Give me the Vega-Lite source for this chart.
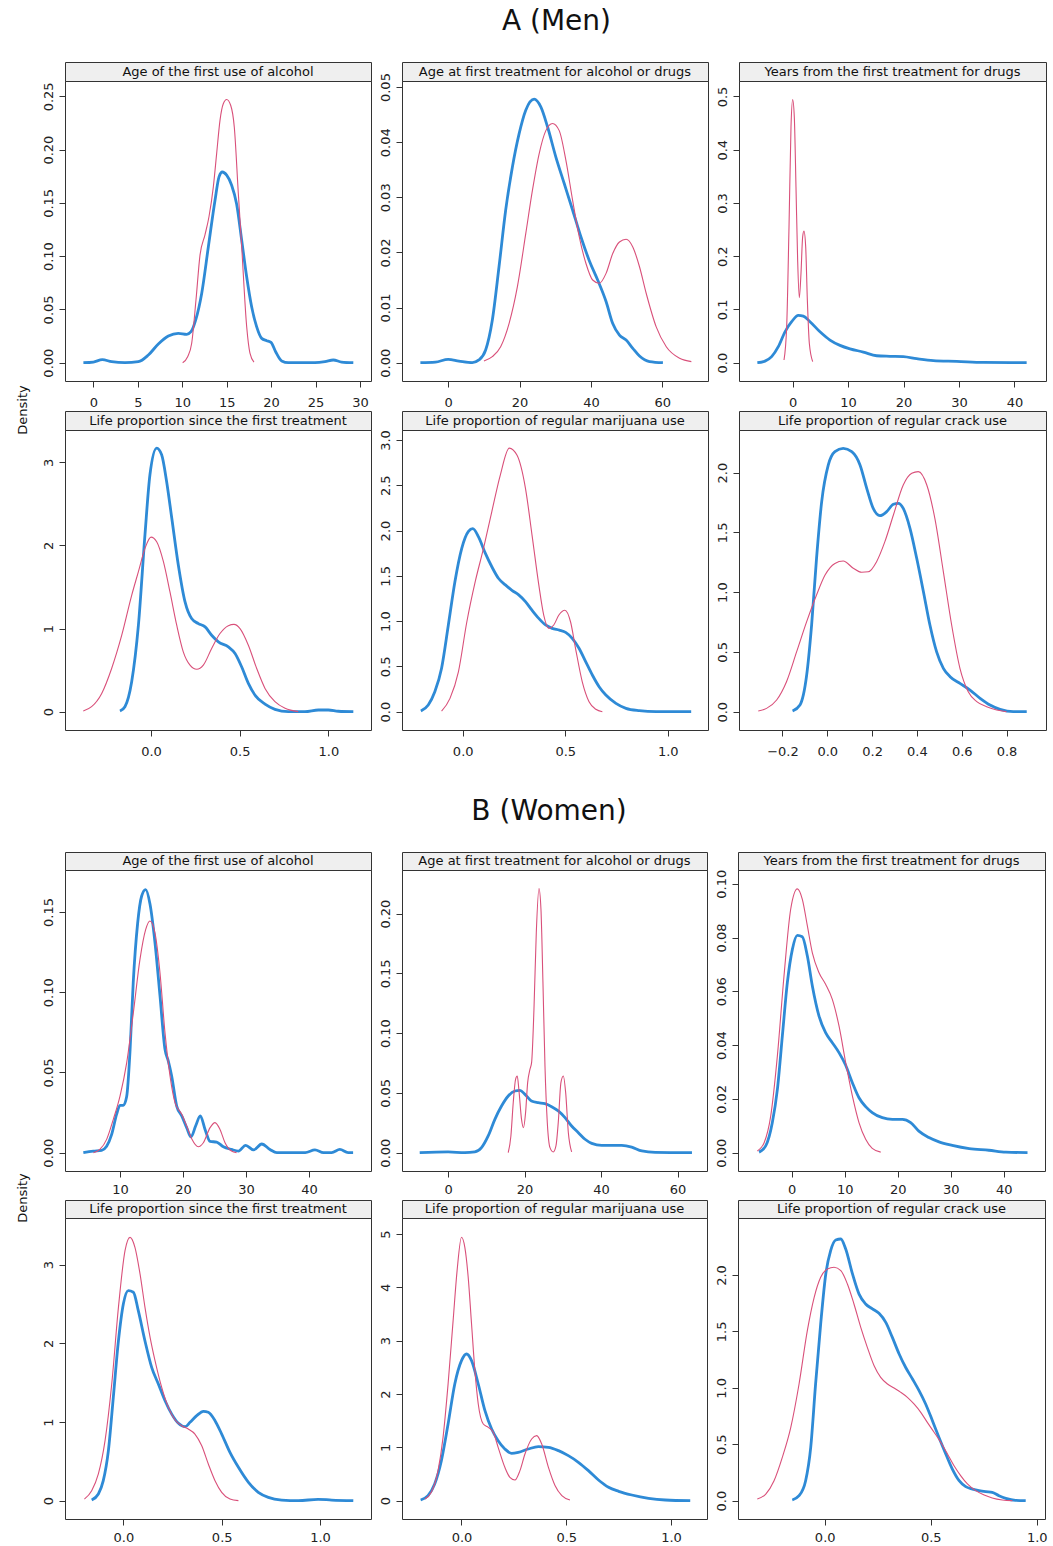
{
"$schema":"https://vega.github.io/schema/vega-lite/v6.json",
"background":"white",
"padding":{"left":16,"top":7,"right":0,"bottom":0},
"config":{"font":"DejaVu Sans","view":{"stroke":"#333","strokeWidth":1},
 "title":{"font":"DejaVu Sans","fontWeight":"normal","color":"#111"},
 "axis":{"grid":false,"domain":false,"tickColor":"#333","labelColor":"#222","labelFont":"DejaVu Sans","labelFontSize":13,"tickSize":6,"labelFlush":false,"labelOverlap":false},
 "axisX":{"labelPadding":9},
 "axisY":{"labelPadding":4,"labelAngle":270}
},
"datasets":{
"A1":[
{"g":"b","x":-1.12,"y":0},{"g":"b","x":0,"y":0.0006},{"g":"b","x":1.01,"y":0.0028},{"g":"b","x":2.06,"y":0.0009},{"g":"b","x":3.56,"y":0},{"g":"b","x":5.06,"y":0.0009},{"g":"b","x":6.19,"y":0.0072},{"g":"b","x":7.31,"y":0.0175},{"g":"b","x":8.44,"y":0.025},{"g":"b","x":9.56,"y":0.0275},{"g":"b","x":10.5,"y":0.0266},{"g":"b","x":10.99,"y":0.0291},{"g":"b","x":11.51,"y":0.04},{"g":"b","x":12.19,"y":0.065},{"g":"b","x":12.94,"y":0.1088},{"g":"b","x":13.69,"y":0.1525},{"g":"b","x":14.14,"y":0.1744},{"g":"b","x":14.51,"y":0.179},{"g":"b","x":15,"y":0.176},{"g":"b","x":15.56,"y":0.1666},{"g":"b","x":16.12,"y":0.149},{"g":"b","x":16.69,"y":0.115},{"g":"b","x":17.25,"y":0.0806},{"g":"b","x":17.81,"y":0.0525},{"g":"b","x":18.37,"y":0.0338},{"g":"b","x":18.94,"y":0.0228},{"g":"b","x":19.5,"y":0.0206},{"g":"b","x":19.99,"y":0.019},{"g":"b","x":20.51,"y":0.0103},{"g":"b","x":21.19,"y":0.0016},{"g":"b","x":21.94,"y":0},{"g":"b","x":24.93,"y":0},{"g":"b","x":26.06,"y":0.0009},{"g":"b","x":27,"y":0.0025},{"g":"b","x":27.93,"y":0.0006},{"g":"b","x":29.25,"y":0},
{"g":"r","x":10.05,"y":0},{"g":"r","x":10.61,"y":0.0056},{"g":"r","x":11.06,"y":0.018},{"g":"r","x":11.55,"y":0.059},{"g":"r","x":12,"y":0.101},{"g":"r","x":12.56,"y":0.12},{"g":"r","x":13.01,"y":0.137},{"g":"r","x":13.5,"y":0.165},{"g":"r","x":13.87,"y":0.196},{"g":"r","x":14.25,"y":0.2275},{"g":"r","x":14.62,"y":0.243},{"g":"r","x":15,"y":0.247},{"g":"r","x":15.45,"y":0.2416},{"g":"r","x":15.86,"y":0.221},{"g":"r","x":16.31,"y":0.159},{"g":"r","x":16.69,"y":0.109},{"g":"r","x":17.25,"y":0.034},{"g":"r","x":17.62,"y":0.009},{"g":"r","x":18.07,"y":0.0006}],
"A2":[
{"g":"b","x":-7.78,"y":0},{"g":"b","x":-3.56,"y":0.0001},{"g":"b","x":0,"y":0.0006},{"g":"b","x":3,"y":0.0003},{"g":"b","x":6.75,"y":0},{"g":"b","x":8.62,"y":0.0005},{"g":"b","x":10.5,"y":0.0023},{"g":"b","x":12.37,"y":0.0077},{"g":"b","x":14.25,"y":0.0174},{"g":"b","x":16.12,"y":0.0277},{"g":"b","x":18,"y":0.0355},{"g":"b","x":19.87,"y":0.0415},{"g":"b","x":21.74,"y":0.0458},{"g":"b","x":24.09,"y":0.0478},{"g":"b","x":25.96,"y":0.0464},{"g":"b","x":27.84,"y":0.0428},{"g":"b","x":30.18,"y":0.0373},{"g":"b","x":32.52,"y":0.0325},{"g":"b","x":34.86,"y":0.0277},{"g":"b","x":37.21,"y":0.0228},{"g":"b","x":39.55,"y":0.0185},{"g":"b","x":41.89,"y":0.015},{"g":"b","x":44.24,"y":0.0111},{"g":"b","x":46.11,"y":0.0071},{"g":"b","x":47.99,"y":0.005},{"g":"b","x":49.86,"y":0.0041},{"g":"b","x":51.73,"y":0.0026},{"g":"b","x":53.61,"y":0.0012},{"g":"b","x":56.42,"y":0.0002},{"g":"b","x":60.17,"y":0},
{"g":"r","x":10.03,"y":0.0003},{"g":"r","x":12.37,"y":0.0011},{"g":"r","x":14.71,"y":0.0029},{"g":"r","x":17.06,"y":0.0071},{"g":"r","x":19.4,"y":0.0138},{"g":"r","x":21.74,"y":0.0234},{"g":"r","x":23.62,"y":0.0313},{"g":"r","x":25.49,"y":0.0379},{"g":"r","x":27.37,"y":0.0421},{"g":"r","x":29.24,"y":0.0434},{"g":"r","x":31.12,"y":0.0421},{"g":"r","x":32.99,"y":0.0367},{"g":"r","x":34.86,"y":0.0295},{"g":"r","x":36.74,"y":0.0228},{"g":"r","x":38.61,"y":0.018},{"g":"r","x":40.49,"y":0.015},{"g":"r","x":42.36,"y":0.0144},{"g":"r","x":44.24,"y":0.0162},{"g":"r","x":46.11,"y":0.0198},{"g":"r","x":47.99,"y":0.0219},{"g":"r","x":49.86,"y":0.0224},{"g":"r","x":51.73,"y":0.021},{"g":"r","x":53.61,"y":0.0174},{"g":"r","x":55.48,"y":0.0126},{"g":"r","x":58.29,"y":0.0065},{"g":"r","x":61.11,"y":0.0029},{"g":"r","x":64.85,"y":0.0008},{"g":"r","x":68.14,"y":0.0002}],
"A3":[
{"g":"b","x":-6.37,"y":0},{"g":"b","x":-4.99,"y":0.003},{"g":"b","x":-3.79,"y":0.0113},{"g":"b","x":-2.59,"y":0.03},{"g":"b","x":-1.38,"y":0.058},{"g":"b","x":-0.18,"y":0.077},{"g":"b","x":1.02,"y":0.089},{"g":"b","x":1.92,"y":0.0875},{"g":"b","x":3.13,"y":0.077},{"g":"b","x":4.93,"y":0.058},{"g":"b","x":6.73,"y":0.0425},{"g":"b","x":8.54,"y":0.0325},{"g":"b","x":10.34,"y":0.026},{"g":"b","x":12.75,"y":0.02},{"g":"b","x":15.15,"y":0.013},{"g":"b","x":17.56,"y":0.012},{"g":"b","x":19.96,"y":0.0113},{"g":"b","x":22.37,"y":0.0075},{"g":"b","x":25.38,"y":0.0038},{"g":"b","x":29.59,"y":0.0025},{"g":"b","x":34.4,"y":0.0006},{"g":"b","x":42.21,"y":0},
{"g":"r","x":-1.56,"y":0.005},{"g":"r","x":-1.08,"y":0.0675},{"g":"r","x":-0.66,"y":0.255},{"g":"r","x":-0.3,"y":0.4425},{"g":"r","x":0,"y":0.494},{"g":"r","x":0.3,"y":0.461},{"g":"r","x":0.6,"y":0.33},{"g":"r","x":0.9,"y":0.1925},{"g":"r","x":1.2,"y":0.122},{"g":"r","x":1.5,"y":0.1675},{"g":"r","x":1.8,"y":0.236},{"g":"r","x":2.04,"y":0.247},{"g":"r","x":2.35,"y":0.2175},{"g":"r","x":2.65,"y":0.1175},{"g":"r","x":3.01,"y":0.036},{"g":"r","x":3.61,"y":0.002}],
"A4":[
{"g":"b","x":-0.175,"y":0.008},{"g":"b","x":-0.147,"y":0.06},{"g":"b","x":-0.109,"y":0.36},{"g":"b","x":-0.071,"y":1.04},{"g":"b","x":-0.034,"y":2.13},{"g":"b","x":-0.006,"y":2.85},{"g":"b","x":0.032,"y":3.17},{"g":"b","x":0.06,"y":3.09},{"g":"b","x":0.088,"y":2.77},{"g":"b","x":0.117,"y":2.33},{"g":"b","x":0.154,"y":1.765},{"g":"b","x":0.192,"y":1.32},{"g":"b","x":0.229,"y":1.12},{"g":"b","x":0.267,"y":1.06},{"g":"b","x":0.305,"y":1.02},{"g":"b","x":0.342,"y":0.92},{"g":"b","x":0.38,"y":0.84},{"g":"b","x":0.436,"y":0.78},{"g":"b","x":0.474,"y":0.7},{"g":"b","x":0.511,"y":0.54},{"g":"b","x":0.549,"y":0.34},{"g":"b","x":0.586,"y":0.2},{"g":"b","x":0.643,"y":0.09},{"g":"b","x":0.699,"y":0.028},{"g":"b","x":0.774,"y":0},{"g":"b","x":0.868,"y":0},{"g":"b","x":0.944,"y":0.02},{"g":"b","x":1.0,"y":0.02},{"g":"b","x":1.056,"y":0.005},{"g":"b","x":1.141,"y":0},
{"g":"r","x":-0.382,"y":0.008},{"g":"r","x":-0.335,"y":0.06},{"g":"r","x":-0.278,"y":0.22},{"g":"r","x":-0.222,"y":0.52},{"g":"r","x":-0.165,"y":0.92},{"g":"r","x":-0.109,"y":1.4},{"g":"r","x":-0.071,"y":1.685},{"g":"r","x":-0.034,"y":1.965},{"g":"r","x":0,"y":2.1},{"g":"r","x":0.032,"y":2.045},{"g":"r","x":0.07,"y":1.805},{"g":"r","x":0.107,"y":1.44},{"g":"r","x":0.145,"y":1.04},{"g":"r","x":0.182,"y":0.72},{"g":"r","x":0.22,"y":0.56},{"g":"r","x":0.258,"y":0.51},{"g":"r","x":0.295,"y":0.56},{"g":"r","x":0.342,"y":0.76},{"g":"r","x":0.389,"y":0.94},{"g":"r","x":0.436,"y":1.035},{"g":"r","x":0.468,"y":1.05},{"g":"r","x":0.502,"y":1.0},{"g":"r","x":0.549,"y":0.8},{"g":"r","x":0.596,"y":0.52},{"g":"r","x":0.643,"y":0.28},{"g":"r","x":0.699,"y":0.12},{"g":"r","x":0.756,"y":0.04},{"g":"r","x":0.83,"y":0}],
"A5":[
{"g":"b","x":-0.204,"y":0.007},{"g":"b","x":-0.168,"y":0.074},{"g":"b","x":-0.136,"y":0.22},{"g":"b","x":-0.103,"y":0.48},{"g":"b","x":-0.07,"y":0.957},{"g":"b","x":-0.038,"y":1.435},{"g":"b","x":-0.005,"y":1.8},{"g":"b","x":0.028,"y":1.99},{"g":"b","x":0.049,"y":2.02},{"g":"b","x":0.077,"y":1.93},{"g":"b","x":0.11,"y":1.75},{"g":"b","x":0.142,"y":1.6},{"g":"b","x":0.175,"y":1.47},{"g":"b","x":0.208,"y":1.4},{"g":"b","x":0.24,"y":1.34},{"g":"b","x":0.273,"y":1.29},{"g":"b","x":0.306,"y":1.215},{"g":"b","x":0.338,"y":1.12},{"g":"b","x":0.371,"y":1.03},{"g":"b","x":0.404,"y":0.957},{"g":"b","x":0.436,"y":0.92},{"g":"b","x":0.471,"y":0.9},{"g":"b","x":0.502,"y":0.876},{"g":"b","x":0.534,"y":0.81},{"g":"b","x":0.567,"y":0.7},{"g":"b","x":0.6,"y":0.55},{"g":"b","x":0.632,"y":0.405},{"g":"b","x":0.665,"y":0.276},{"g":"b","x":0.698,"y":0.184},{"g":"b","x":0.747,"y":0.092},{"g":"b","x":0.796,"y":0.037},{"g":"b","x":0.861,"y":0.011},{"g":"b","x":0.943,"y":0},{"g":"b","x":1.114,"y":0},
{"g":"r","x":-0.103,"y":0.007},{"g":"r","x":-0.062,"y":0.147},{"g":"r","x":-0.021,"y":0.44},{"g":"r","x":0.02,"y":0.99},{"g":"r","x":0.061,"y":1.435},{"g":"r","x":0.101,"y":1.8},{"g":"r","x":0.142,"y":2.21},{"g":"r","x":0.183,"y":2.61},{"g":"r","x":0.227,"y":2.91},{"g":"r","x":0.265,"y":2.83},{"g":"r","x":0.306,"y":2.466},{"g":"r","x":0.338,"y":1.95},{"g":"r","x":0.371,"y":1.4},{"g":"r","x":0.395,"y":1.067},{"g":"r","x":0.42,"y":0.92},{"g":"r","x":0.444,"y":0.957},{"g":"r","x":0.469,"y":1.067},{"g":"r","x":0.498,"y":1.12},{"g":"r","x":0.526,"y":0.99},{"g":"r","x":0.55,"y":0.7},{"g":"r","x":0.583,"y":0.33},{"g":"r","x":0.616,"y":0.11},{"g":"r","x":0.649,"y":0.026},{"g":"r","x":0.681,"y":0}],
"A6":[
{"g":"b","x":-0.155,"y":0.006},{"g":"b","x":-0.122,"y":0.056},{"g":"b","x":-0.092,"y":0.307},{"g":"b","x":-0.07,"y":0.725},{"g":"b","x":-0.048,"y":1.283},{"g":"b","x":-0.025,"y":1.757},{"g":"b","x":0.0045,"y":2.064},{"g":"b","x":0.034,"y":2.175},{"g":"b","x":0.071,"y":2.203},{"g":"b","x":0.109,"y":2.175},{"g":"b","x":0.146,"y":2.064},{"g":"b","x":0.176,"y":1.868},{"g":"b","x":0.205,"y":1.7},{"g":"b","x":0.235,"y":1.64},{"g":"b","x":0.265,"y":1.673},{"g":"b","x":0.295,"y":1.735},{"g":"b","x":0.317,"y":1.743},{"g":"b","x":0.339,"y":1.7},{"g":"b","x":0.369,"y":1.534},{"g":"b","x":0.399,"y":1.283},{"g":"b","x":0.429,"y":1.004},{"g":"b","x":0.458,"y":0.725},{"g":"b","x":0.488,"y":0.5},{"g":"b","x":0.518,"y":0.363},{"g":"b","x":0.548,"y":0.293},{"g":"b","x":0.592,"y":0.237},{"g":"b","x":0.637,"y":0.181},{"g":"b","x":0.682,"y":0.112},{"g":"b","x":0.726,"y":0.056},{"g":"b","x":0.771,"y":0.02},{"g":"b","x":0.83,"y":0},{"g":"b","x":0.89,"y":0},
{"g":"r","x":-0.308,"y":0.006},{"g":"r","x":-0.271,"y":0.028},{"g":"r","x":-0.226,"y":0.098},{"g":"r","x":-0.182,"y":0.251},{"g":"r","x":-0.137,"y":0.5},{"g":"r","x":-0.092,"y":0.753},{"g":"r","x":-0.048,"y":0.976},{"g":"r","x":-0.01,"y":1.143},{"g":"r","x":0.034,"y":1.24},{"g":"r","x":0.071,"y":1.26},{"g":"r","x":0.116,"y":1.2},{"g":"r","x":0.153,"y":1.166},{"g":"r","x":0.183,"y":1.17},{"g":"r","x":0.22,"y":1.255},{"g":"r","x":0.257,"y":1.422},{"g":"r","x":0.295,"y":1.645},{"g":"r","x":0.339,"y":1.896},{"g":"r","x":0.377,"y":1.994},{"g":"r","x":0.406,"y":2.008},{"g":"r","x":0.444,"y":1.896},{"g":"r","x":0.48,"y":1.617},{"g":"r","x":0.518,"y":1.17},{"g":"r","x":0.555,"y":0.725},{"g":"r","x":0.592,"y":0.363},{"g":"r","x":0.629,"y":0.167},{"g":"r","x":0.667,"y":0.084},{"g":"r","x":0.711,"y":0.042},{"g":"r","x":0.756,"y":0.014},{"g":"r","x":0.8,"y":0}],
"B1":[
{"g":"b","x":4.18,"y":0},{"g":"b","x":5.77,"y":0.001},{"g":"b","x":7.09,"y":0.0015},{"g":"b","x":7.88,"y":0.004},{"g":"b","x":8.68,"y":0.0114},{"g":"b","x":9.47,"y":0.024},{"g":"b","x":10,"y":0.0295},{"g":"b","x":10.53,"y":0.0295},{"g":"b","x":11.06,"y":0.035},{"g":"b","x":11.6,"y":0.064},{"g":"b","x":12.1,"y":0.106},{"g":"b","x":12.8,"y":0.143},{"g":"b","x":13.44,"y":0.16},{"g":"b","x":14.07,"y":0.164},{"g":"b","x":14.76,"y":0.155},{"g":"b","x":15.55,"y":0.131},{"g":"b","x":16.35,"y":0.0977},{"g":"b","x":17.14,"y":0.0644},{"g":"b","x":17.67,"y":0.0571},{"g":"b","x":18.2,"y":0.0478},{"g":"b","x":19,"y":0.029},{"g":"b","x":19.8,"y":0.0229},{"g":"b","x":20.58,"y":0.0156},{"g":"b","x":21.27,"y":0.0098},{"g":"b","x":22,"y":0.0166},{"g":"b","x":22.75,"y":0.0229},{"g":"b","x":23.5,"y":0.0145},{"g":"b","x":24.3,"y":0.007},{"g":"b","x":25.34,"y":0.0066},{"g":"b","x":26.4,"y":0.0037},{"g":"b","x":27.7,"y":0.002},{"g":"b","x":28.8,"y":0.001},{"g":"b","x":29.95,"y":0.0046},{"g":"b","x":31.2,"y":0.0017},{"g":"b","x":32.5,"y":0.0054},{"g":"b","x":33.8,"y":0.002},{"g":"b","x":34.9,"y":0},{"g":"b","x":39.4,"y":0},{"g":"b","x":40.95,"y":0.0017},{"g":"b","x":42.3,"y":0},{"g":"b","x":43.6,"y":0},{"g":"b","x":44.9,"y":0.002},{"g":"b","x":46.2,"y":0},{"g":"b","x":47,"y":0},
{"g":"r","x":5.77,"y":0},{"g":"r","x":6.8,"y":0.002},{"g":"r","x":7.88,"y":0.0083},{"g":"r","x":8.94,"y":0.0208},{"g":"r","x":10,"y":0.0353},{"g":"r","x":11.06,"y":0.056},{"g":"r","x":12.12,"y":0.0873},{"g":"r","x":13.17,"y":0.1205},{"g":"r","x":14.07,"y":0.139},{"g":"r","x":14.76,"y":0.1444},{"g":"r","x":15.55,"y":0.137},{"g":"r","x":16.35,"y":0.112},{"g":"r","x":17.14,"y":0.0748},{"g":"r","x":17.94,"y":0.0478},{"g":"r","x":18.73,"y":0.0312},{"g":"r","x":19.8,"y":0.0239},{"g":"r","x":20.58,"y":0.0166},{"g":"r","x":21.38,"y":0.0087},{"g":"r","x":22.43,"y":0.0037},{"g":"r","x":23.23,"y":0.0062},{"g":"r","x":24.3,"y":0.0156},{"g":"r","x":25.08,"y":0.0187},{"g":"r","x":25.87,"y":0.0145},{"g":"r","x":26.67,"y":0.0062},{"g":"r","x":27.7,"y":0.001},{"g":"r","x":28.5,"y":0}],
"B2":[
{"g":"b","x":-7.42,"y":0},{"g":"b","x":0,"y":0.0006},{"g":"b","x":4.37,"y":0},{"g":"b","x":6.99,"y":0.0006},{"g":"b","x":8.73,"y":0.0042},{"g":"b","x":10.48,"y":0.014},{"g":"b","x":12.23,"y":0.0279},{"g":"b","x":13.97,"y":0.039},{"g":"b","x":15.72,"y":0.0474},{"g":"b","x":17.47,"y":0.0516},{"g":"b","x":18.78,"y":0.0522},{"g":"b","x":20.1,"y":0.0488},{"g":"b","x":21.8,"y":0.0432},{"g":"b","x":23.58,"y":0.0418},{"g":"b","x":25.3,"y":0.041},{"g":"b","x":27.07,"y":0.0385},{"g":"b","x":28.8,"y":0.0349},{"g":"b","x":30.57,"y":0.0293},{"g":"b","x":32.3,"y":0.0223},{"g":"b","x":34.06,"y":0.0167},{"g":"b","x":35.8,"y":0.0112},{"g":"b","x":37.55,"y":0.0078},{"g":"b","x":40.17,"y":0.0061},{"g":"b","x":42.8,"y":0.0061},{"g":"b","x":45.4,"y":0.0061},{"g":"b","x":48,"y":0.0047},{"g":"b","x":50.66,"y":0.0014},{"g":"b","x":54.15,"y":0.0003},{"g":"b","x":63.76,"y":0},
{"g":"r","x":15.72,"y":0},{"g":"r","x":16.42,"y":0.014},{"g":"r","x":17.03,"y":0.0418},{"g":"r","x":17.64,"y":0.0614},{"g":"r","x":18.08,"y":0.0642},{"g":"r","x":18.5,"y":0.053},{"g":"r","x":19.2,"y":0.0279},{"g":"r","x":19.7,"y":0.0209},{"g":"r","x":20.26,"y":0.0335},{"g":"r","x":20.8,"y":0.0586},{"g":"r","x":21.4,"y":0.0697},{"g":"r","x":21.83,"y":0.0753},{"g":"r","x":22.45,"y":0.12},{"g":"r","x":23.06,"y":0.184},{"g":"r","x":23.76,"y":0.221},{"g":"r","x":24.28,"y":0.2036},{"g":"r","x":24.8,"y":0.1423},{"g":"r","x":25.33,"y":0.0725},{"g":"r","x":25.94,"y":0.0251},{"g":"r","x":26.64,"y":0.0042},{"g":"r","x":27.5,"y":0.0006},{"g":"r","x":28.2,"y":0.0056},{"g":"r","x":28.8,"y":0.0251},{"g":"r","x":29.5,"y":0.0586},{"g":"r","x":30.13,"y":0.0642},{"g":"r","x":30.74,"y":0.0502},{"g":"r","x":31.44,"y":0.0167},{"g":"r","x":32.3,"y":0.0006}],
"B3":[
{"g":"b","x":-6.16,"y":0.0002},{"g":"b","x":-4.9,"y":0.0025},{"g":"b","x":-3.65,"y":0.0112},{"g":"b","x":-2.7,"y":0.0235},{"g":"b","x":-1.76,"y":0.0434},{"g":"b","x":-0.82,"y":0.0632},{"g":"b","x":0.13,"y":0.0756},{"g":"b","x":1.07,"y":0.0808},{"g":"b","x":2.0,"y":0.0803},{"g":"b","x":2.96,"y":0.0731},{"g":"b","x":3.9,"y":0.062},{"g":"b","x":5.16,"y":0.0508},{"g":"b","x":6.4,"y":0.0446},{"g":"b","x":7.67,"y":0.0409},{"g":"b","x":8.93,"y":0.0372},{"g":"b","x":10.19,"y":0.0325},{"g":"b","x":11.45,"y":0.026},{"g":"b","x":12.7,"y":0.0204},{"g":"b","x":13.96,"y":0.0171},{"g":"b","x":15.2,"y":0.0149},{"g":"b","x":17.1,"y":0.013},{"g":"b","x":19,"y":0.0124},{"g":"b","x":20.9,"y":0.0124},{"g":"b","x":22.45,"y":0.0112},{"g":"b","x":24,"y":0.008},{"g":"b","x":25.9,"y":0.0056},{"g":"b","x":27.8,"y":0.004},{"g":"b","x":30.3,"y":0.0027},{"g":"b","x":33.5,"y":0.0015},{"g":"b","x":37.2,"y":0.0009},{"g":"b","x":40.4,"y":0.0002},{"g":"b","x":44.5,"y":0},
{"g":"r","x":-6.48,"y":0.0006},{"g":"r","x":-5.2,"y":0.0037},{"g":"r","x":-3.96,"y":0.0136},{"g":"r","x":-2.7,"y":0.036},{"g":"r","x":-1.45,"y":0.0657},{"g":"r","x":-0.19,"y":0.0905},{"g":"r","x":1.07,"y":0.0981},{"g":"r","x":2.01,"y":0.0942},{"g":"r","x":2.96,"y":0.0843},{"g":"r","x":3.9,"y":0.0743},{"g":"r","x":5.16,"y":0.0669},{"g":"r","x":6.4,"y":0.0626},{"g":"r","x":7.67,"y":0.057},{"g":"r","x":8.93,"y":0.0471},{"g":"r","x":10.19,"y":0.0335},{"g":"r","x":11.45,"y":0.0211},{"g":"r","x":12.7,"y":0.0112},{"g":"r","x":13.96,"y":0.005},{"g":"r","x":15.2,"y":0.0016},{"g":"r","x":16.8,"y":0.0002}],
"B4":[
{"g":"b","x":-0.161,"y":0.008},{"g":"b","x":-0.127,"y":0.085},{"g":"b","x":-0.102,"y":0.254},{"g":"b","x":-0.076,"y":0.636},{"g":"b","x":-0.051,"y":1.314},{"g":"b","x":-0.025,"y":2.03},{"g":"b","x":0,"y":2.5},{"g":"b","x":0.025,"y":2.67},{"g":"b","x":0.051,"y":2.65},{"g":"b","x":0.076,"y":2.415},{"g":"b","x":0.11,"y":2.03},{"g":"b","x":0.144,"y":1.695},{"g":"b","x":0.178,"y":1.483},{"g":"b","x":0.212,"y":1.27},{"g":"b","x":0.246,"y":1.1},{"g":"b","x":0.28,"y":0.983},{"g":"b","x":0.314,"y":0.94},{"g":"b","x":0.339,"y":0.996},{"g":"b","x":0.373,"y":1.08},{"g":"b","x":0.407,"y":1.136},{"g":"b","x":0.432,"y":1.123},{"g":"b","x":0.466,"y":1.017},{"g":"b","x":0.5,"y":0.847},{"g":"b","x":0.542,"y":0.614},{"g":"b","x":0.585,"y":0.424},{"g":"b","x":0.636,"y":0.233},{"g":"b","x":0.686,"y":0.106},{"g":"b","x":0.737,"y":0.042},{"g":"b","x":0.805,"y":0.008},{"g":"b","x":0.89,"y":0},{"g":"b","x":0.99,"y":0.017},{"g":"b","x":1.059,"y":0.008},{"g":"b","x":1.169,"y":0},
{"g":"r","x":-0.198,"y":0.02},{"g":"r","x":-0.161,"y":0.127},{"g":"r","x":-0.127,"y":0.34},{"g":"r","x":-0.093,"y":0.763},{"g":"r","x":-0.059,"y":1.483},{"g":"r","x":-0.025,"y":2.457},{"g":"r","x":0.0085,"y":3.178},{"g":"r","x":0.034,"y":3.347},{"g":"r","x":0.059,"y":3.22},{"g":"r","x":0.085,"y":2.88},{"g":"r","x":0.11,"y":2.457},{"g":"r","x":0.136,"y":2.076},{"g":"r","x":0.161,"y":1.78},{"g":"r","x":0.195,"y":1.44},{"g":"r","x":0.229,"y":1.186},{"g":"r","x":0.263,"y":1.025},{"g":"r","x":0.297,"y":0.953},{"g":"r","x":0.33,"y":0.91},{"g":"r","x":0.364,"y":0.847},{"g":"r","x":0.398,"y":0.7},{"g":"r","x":0.432,"y":0.466},{"g":"r","x":0.466,"y":0.254},{"g":"r","x":0.5,"y":0.106},{"g":"r","x":0.542,"y":0.021},{"g":"r","x":0.585,"y":0}],
"B5":[
{"g":"b","x":-0.195,"y":0.0125},{"g":"b","x":-0.16,"y":0.094},{"g":"b","x":-0.128,"y":0.3125},{"g":"b","x":-0.096,"y":0.75},{"g":"b","x":-0.064,"y":1.4375},{"g":"b","x":-0.032,"y":2.1875},{"g":"b","x":0,"y":2.625},{"g":"b","x":0.024,"y":2.75},{"g":"b","x":0.048,"y":2.625},{"g":"b","x":0.08,"y":2.1875},{"g":"b","x":0.112,"y":1.6875},{"g":"b","x":0.144,"y":1.344},{"g":"b","x":0.175,"y":1.125},{"g":"b","x":0.207,"y":0.97},{"g":"b","x":0.239,"y":0.8875},{"g":"b","x":0.271,"y":0.906},{"g":"b","x":0.319,"y":0.969},{"g":"b","x":0.367,"y":1.0125},{"g":"b","x":0.415,"y":1.0},{"g":"b","x":0.463,"y":0.9375},{"g":"b","x":0.51,"y":0.844},{"g":"b","x":0.558,"y":0.72},{"g":"b","x":0.606,"y":0.5625},{"g":"b","x":0.654,"y":0.3875},{"g":"b","x":0.702,"y":0.25},{"g":"b","x":0.75,"y":0.175},{"g":"b","x":0.813,"y":0.106},{"g":"b","x":0.893,"y":0.044},{"g":"b","x":0.973,"y":0.0125},{"g":"b","x":1.092,"y":0},
{"g":"r","x":-0.175,"y":0.03},{"g":"r","x":-0.144,"y":0.156},{"g":"r","x":-0.112,"y":0.5625},{"g":"r","x":-0.088,"y":1.1875},{"g":"r","x":-0.064,"y":2.1875},{"g":"r","x":-0.04,"y":3.375},{"g":"r","x":-0.021,"y":4.3125},{"g":"r","x":0,"y":4.94},{"g":"r","x":0.016,"y":4.75},{"g":"r","x":0.032,"y":4.19},{"g":"r","x":0.048,"y":3.3125},{"g":"r","x":0.064,"y":2.4375},{"g":"r","x":0.08,"y":1.8125},{"g":"r","x":0.104,"y":1.4375},{"g":"r","x":0.128,"y":1.375},{"g":"r","x":0.152,"y":1.28},{"g":"r","x":0.175,"y":1.0},{"g":"r","x":0.207,"y":0.625},{"g":"r","x":0.231,"y":0.4375},{"g":"r","x":0.255,"y":0.3875},{"g":"r","x":0.279,"y":0.5625},{"g":"r","x":0.303,"y":0.875},{"g":"r","x":0.335,"y":1.156},{"g":"r","x":0.359,"y":1.22},{"g":"r","x":0.383,"y":1.0625},{"g":"r","x":0.415,"y":0.625},{"g":"r","x":0.447,"y":0.28},{"g":"r","x":0.479,"y":0.094},{"g":"r","x":0.518,"y":0.0125}],
"B6":[
{"g":"b","x":-0.153,"y":0.006},{"g":"b","x":-0.121,"y":0.044},{"g":"b","x":-0.09,"y":0.177},{"g":"b","x":-0.066,"y":0.473},{"g":"b","x":-0.043,"y":1.034},{"g":"b","x":-0.019,"y":1.566},{"g":"b","x":0.005,"y":2.009},{"g":"b","x":0.028,"y":2.216},{"g":"b","x":0.052,"y":2.31},{"g":"b","x":0.076,"y":2.319},{"g":"b","x":0.099,"y":2.23},{"g":"b","x":0.131,"y":2.009},{"g":"b","x":0.162,"y":1.83},{"g":"b","x":0.193,"y":1.743},{"g":"b","x":0.225,"y":1.7},{"g":"b","x":0.256,"y":1.66},{"g":"b","x":0.288,"y":1.58},{"g":"b","x":0.319,"y":1.447},{"g":"b","x":0.351,"y":1.3},{"g":"b","x":0.382,"y":1.18},{"g":"b","x":0.414,"y":1.078},{"g":"b","x":0.445,"y":0.975},{"g":"b","x":0.476,"y":0.857},{"g":"b","x":0.508,"y":0.709},{"g":"b","x":0.539,"y":0.56},{"g":"b","x":0.571,"y":0.414},{"g":"b","x":0.602,"y":0.28},{"g":"b","x":0.634,"y":0.177},{"g":"b","x":0.665,"y":0.124},{"g":"b","x":0.697,"y":0.103},{"g":"b","x":0.728,"y":0.089},{"g":"b","x":0.759,"y":0.08},{"g":"b","x":0.79,"y":0.074},{"g":"b","x":0.822,"y":0.044},{"g":"b","x":0.854,"y":0.021},{"g":"b","x":0.9,"y":0.003},{"g":"b","x":0.948,"y":0},
{"g":"r","x":-0.318,"y":0.015},{"g":"r","x":-0.278,"y":0.059},{"g":"r","x":-0.239,"y":0.177},{"g":"r","x":-0.2,"y":0.384},{"g":"r","x":-0.16,"y":0.65},{"g":"r","x":-0.121,"y":1.034},{"g":"r","x":-0.082,"y":1.507},{"g":"r","x":-0.05,"y":1.8},{"g":"r","x":-0.019,"y":1.98},{"g":"r","x":0.013,"y":2.053},{"g":"r","x":0.044,"y":2.068},{"g":"r","x":0.076,"y":2.038},{"g":"r","x":0.107,"y":1.92},{"g":"r","x":0.138,"y":1.743},{"g":"r","x":0.17,"y":1.536},{"g":"r","x":0.201,"y":1.359},{"g":"r","x":0.233,"y":1.196},{"g":"r","x":0.264,"y":1.093},{"g":"r","x":0.296,"y":1.034},{"g":"r","x":0.327,"y":0.998},{"g":"r","x":0.359,"y":0.96},{"g":"r","x":0.39,"y":0.916},{"g":"r","x":0.421,"y":0.857},{"g":"r","x":0.453,"y":0.783},{"g":"r","x":0.484,"y":0.694},{"g":"r","x":0.516,"y":0.606},{"g":"r","x":0.547,"y":0.517},{"g":"r","x":0.579,"y":0.414},{"g":"r","x":0.61,"y":0.31},{"g":"r","x":0.642,"y":0.22},{"g":"r","x":0.673,"y":0.148},{"g":"r","x":0.712,"y":0.089},{"g":"r","x":0.752,"y":0.05},{"g":"r","x":0.79,"y":0.024},{"g":"r","x":0.838,"y":0.006},{"g":"r","x":0.885,"y":0}]
},
"vconcat":[
{"title":{"text":"A (Men)","fontSize":28,"anchor":"middle","offset":26,"dx":25},
 "vconcat":[{"title":{"text":"Density","orient":"left","fontSize":13,"anchor":"middle","offset":12},
  "spacing":0,
  "vconcat":[
   {"spacing":6,"hconcat":[
    {"bounds":"flush","spacing":0,"vconcat":[
      {"width":306,"height":19,"view":{"fill":"#efefef","stroke":"#333"},"data":{"values":[{"t":"Age of the first use of alcohol"}]},"mark":{"type":"text","fontSize":13,"font":"DejaVu Sans","color":"#111"},"encoding":{"text":{"field":"t","type":"nominal"}}},
      {"width":306,"height":300,"data":{"name":"A1"},
       "encoding":{"x":{"field":"x","type":"quantitative","title":null,"scale":{"domain":[-3.19,31.24],"nice":false,"zero":false},"axis":{"values":[0,5,10,15,20,25,30]}},
                   "y":{"field":"y","type":"quantitative","title":null,"scale":{"domain":[-0.0172,0.2644],"nice":false,"zero":false},"axis":{"values":[0,0.05,0.1,0.15,0.2,0.25],"format":".2f"}}},
       "layer":[{"transform":[{"filter":"datum.g=='b'"}],"mark":{"type":"line","interpolate":"monotone","color":"#2E8AD6","strokeWidth":2.8,"clip":true}},
                {"transform":[{"filter":"datum.g=='r'"}],"mark":{"type":"line","interpolate":"monotone","color":"#D9507A","strokeWidth":1.1,"clip":true}}]}
    ]},
    {"bounds":"flush","spacing":0,"vconcat":[
      {"width":306,"height":19,"view":{"fill":"#efefef","stroke":"#333"},"data":{"values":[{"t":"Age at first treatment for alcohol or drugs"}]},"mark":{"type":"text","fontSize":13,"font":"DejaVu Sans","color":"#111"},"encoding":{"text":{"field":"t","type":"nominal"}}},
      {"width":306,"height":300,"data":{"name":"A2"},
       "encoding":{"x":{"field":"x","type":"quantitative","title":null,"scale":{"domain":[-12.93,72.8],"nice":false,"zero":false},"axis":{"values":[0,20,40,60]}},
                   "y":{"field":"y","type":"quantitative","title":null,"scale":{"domain":[-0.00332,0.0511],"nice":false,"zero":false},"axis":{"values":[0,0.01,0.02,0.03,0.04,0.05],"format":".2f"}}},
       "layer":[{"transform":[{"filter":"datum.g=='b'"}],"mark":{"type":"line","interpolate":"monotone","color":"#2E8AD6","strokeWidth":2.8,"clip":true}},
                {"transform":[{"filter":"datum.g=='r'"}],"mark":{"type":"line","interpolate":"monotone","color":"#D9507A","strokeWidth":1.1,"clip":true}}]}
    ]},
    {"bounds":"flush","spacing":0,"vconcat":[
      {"width":307,"height":19,"view":{"fill":"#efefef","stroke":"#333"},"data":{"values":[{"t":"Years from the first treatment for drugs"}]},"mark":{"type":"text","fontSize":13,"font":"DejaVu Sans","color":"#111"},"encoding":{"text":{"field":"t","type":"nominal"}}},
      {"width":307,"height":300,"data":{"name":"A3"},
       "encoding":{"x":{"field":"x","type":"quantitative","title":null,"scale":{"domain":[-9.68,45.7],"nice":false,"zero":false},"axis":{"values":[0,10,20,30,40]}},
                   "y":{"field":"y","type":"quantitative","title":null,"scale":{"domain":[-0.0344,0.529],"nice":false,"zero":false},"axis":{"values":[0,0.1,0.2,0.3,0.4,0.5],"format":".1f"}}},
       "layer":[{"transform":[{"filter":"datum.g=='b'"}],"mark":{"type":"line","interpolate":"monotone","color":"#2E8AD6","strokeWidth":2.8,"clip":true}},
                {"transform":[{"filter":"datum.g=='r'"}],"mark":{"type":"line","interpolate":"monotone","color":"#D9507A","strokeWidth":1.1,"clip":true}}]}
    ]}
   ]},
   {"spacing":6,"hconcat":[
    {"bounds":"flush","spacing":0,"vconcat":[
      {"width":306,"height":19,"view":{"fill":"#efefef","stroke":"#333"},"data":{"values":[{"t":"Life proportion since the first treatment"}]},"mark":{"type":"text","fontSize":13,"font":"DejaVu Sans","color":"#111"},"encoding":{"text":{"field":"t","type":"nominal"}}},
      {"width":306,"height":300,"data":{"name":"A4"},
       "encoding":{"x":{"field":"x","type":"quantitative","title":null,"scale":{"domain":[-0.485,1.2406],"nice":false,"zero":false},"axis":{"values":[0,0.5,1],"format":".1f"}},
                   "y":{"field":"y","type":"quantitative","title":null,"scale":{"domain":[-0.2206,3.389],"nice":false,"zero":false},"axis":{"values":[0,1,2,3],"format":"d"}}},
       "layer":[{"transform":[{"filter":"datum.g=='b'"}],"mark":{"type":"line","interpolate":"monotone","color":"#2E8AD6","strokeWidth":2.8,"clip":true}},
                {"transform":[{"filter":"datum.g=='r'"}],"mark":{"type":"line","interpolate":"monotone","color":"#D9507A","strokeWidth":1.1,"clip":true}}]}
    ]},
    {"bounds":"flush","spacing":0,"vconcat":[
      {"width":306,"height":19,"view":{"fill":"#efefef","stroke":"#333"},"data":{"values":[{"t":"Life proportion of regular marijuana use"}]},"mark":{"type":"text","fontSize":13,"font":"DejaVu Sans","color":"#111"},"encoding":{"text":{"field":"t","type":"nominal"}}},
      {"width":306,"height":300,"data":{"name":"A5"},
       "encoding":{"x":{"field":"x","type":"quantitative","title":null,"scale":{"domain":[-0.296,1.196],"nice":false,"zero":false},"axis":{"values":[0,0.5,1],"format":".1f"}},
                   "y":{"field":"y","type":"quantitative","title":null,"scale":{"domain":[-0.2024,3.11],"nice":false,"zero":false},"axis":{"values":[0,0.5,1,1.5,2,2.5,3],"format":".1f"}}},
       "layer":[{"transform":[{"filter":"datum.g=='b'"}],"mark":{"type":"line","interpolate":"monotone","color":"#2E8AD6","strokeWidth":2.8,"clip":true}},
                {"transform":[{"filter":"datum.g=='r'"}],"mark":{"type":"line","interpolate":"monotone","color":"#D9507A","strokeWidth":1.1,"clip":true}}]}
    ]},
    {"bounds":"flush","spacing":0,"vconcat":[
      {"width":307,"height":19,"view":{"fill":"#efefef","stroke":"#333"},"data":{"values":[{"t":"Life proportion of regular crack use"}]},"mark":{"type":"text","fontSize":13,"font":"DejaVu Sans","color":"#111"},"encoding":{"text":{"field":"t","type":"nominal"}}},
      {"width":307,"height":300,"data":{"name":"A6"},
       "encoding":{"x":{"field":"x","type":"quantitative","title":null,"scale":{"domain":[-0.394,0.976],"nice":false,"zero":false},"axis":{"values":[-0.2,0,0.2,0.4,0.6,0.8],"format":".1f"}},
                   "y":{"field":"y","type":"quantitative","title":null,"scale":{"domain":[-0.153,2.356],"nice":false,"zero":false},"axis":{"values":[0,0.5,1,1.5,2],"format":".1f"}}},
       "layer":[{"transform":[{"filter":"datum.g=='b'"}],"mark":{"type":"line","interpolate":"monotone","color":"#2E8AD6","strokeWidth":2.8,"clip":true}},
                {"transform":[{"filter":"datum.g=='r'"}],"mark":{"type":"line","interpolate":"monotone","color":"#D9507A","strokeWidth":1.1,"clip":true}}]}
    ]}
   ]}
  ]}]},
{"title":{"text":"B (Women)","fontSize":28,"anchor":"middle","offset":26,"dx":17},
 "vconcat":[{"title":{"text":"Density","orient":"left","fontSize":13,"anchor":"middle","offset":12},
  "spacing":2,
  "vconcat":[
   {"spacing":6,"hconcat":[
    {"bounds":"flush","spacing":0,"vconcat":[
      {"width":306,"height":18,"view":{"fill":"#efefef","stroke":"#333"},"data":{"values":[{"t":"Age of the first use of alcohol"}]},"mark":{"type":"text","fontSize":13,"font":"DejaVu Sans","color":"#111"},"encoding":{"text":{"field":"t","type":"nominal"}}},
      {"width":306,"height":301,"data":{"name":"B1"},
       "encoding":{"x":{"field":"x","type":"quantitative","title":null,"scale":{"domain":[1.27,49.84],"nice":false,"zero":false},"axis":{"values":[10,20,30,40],"labelPadding":6}},
                   "y":{"field":"y","type":"quantitative","title":null,"scale":{"domain":[-0.01143,0.1762],"nice":false,"zero":false},"axis":{"values":[0,0.05,0.1,0.15],"format":".2f"}}},
       "layer":[{"transform":[{"filter":"datum.g=='b'"}],"mark":{"type":"line","interpolate":"monotone","color":"#2E8AD6","strokeWidth":2.8,"clip":true}},
                {"transform":[{"filter":"datum.g=='r'"}],"mark":{"type":"line","interpolate":"monotone","color":"#D9507A","strokeWidth":1.1,"clip":true}}]}
    ]},
    {"bounds":"flush","spacing":0,"vconcat":[
      {"width":305,"height":18,"view":{"fill":"#efefef","stroke":"#333"},"data":{"values":[{"t":"Age at first treatment for alcohol or drugs"}]},"mark":{"type":"text","fontSize":13,"font":"DejaVu Sans","color":"#111"},"encoding":{"text":{"field":"t","type":"nominal"}}},
      {"width":305,"height":301,"data":{"name":"B2"},
       "encoding":{"x":{"field":"x","type":"quantitative","title":null,"scale":{"domain":[-12.05,67.69],"nice":false,"zero":false},"axis":{"values":[0,20,40,60],"labelPadding":6}},
                   "y":{"field":"y","type":"quantitative","title":null,"scale":{"domain":[-0.01534,0.2365],"nice":false,"zero":false},"axis":{"values":[0,0.05,0.1,0.15,0.2],"format":".2f"}}},
       "layer":[{"transform":[{"filter":"datum.g=='b'"}],"mark":{"type":"line","interpolate":"monotone","color":"#2E8AD6","strokeWidth":2.8,"clip":true}},
                {"transform":[{"filter":"datum.g=='r'"}],"mark":{"type":"line","interpolate":"monotone","color":"#D9507A","strokeWidth":1.1,"clip":true}}]}
    ]},
    {"bounds":"flush","spacing":0,"vconcat":[
      {"width":307,"height":18,"view":{"fill":"#efefef","stroke":"#333"},"data":{"values":[{"t":"Years from the first treatment for drugs"}]},"mark":{"type":"text","fontSize":13,"font":"DejaVu Sans","color":"#111"},"encoding":{"text":{"field":"t","type":"nominal"}}},
      {"width":307,"height":301,"data":{"name":"B3"},
       "encoding":{"x":{"field":"x","type":"quantitative","title":null,"scale":{"domain":[-10.13,47.8],"nice":false,"zero":false},"axis":{"values":[0,10,20,30,40],"labelPadding":6}},
                   "y":{"field":"y","type":"quantitative","title":null,"scale":{"domain":[-0.00682,0.1051],"nice":false,"zero":false},"axis":{"values":[0,0.02,0.04,0.06,0.08,0.1],"format":".2f"}}},
       "layer":[{"transform":[{"filter":"datum.g=='b'"}],"mark":{"type":"line","interpolate":"monotone","color":"#2E8AD6","strokeWidth":2.8,"clip":true}},
                {"transform":[{"filter":"datum.g=='r'"}],"mark":{"type":"line","interpolate":"monotone","color":"#D9507A","strokeWidth":1.1,"clip":true}}]}
    ]}
   ]},
   {"spacing":6,"hconcat":[
    {"bounds":"flush","spacing":0,"vconcat":[
      {"width":306,"height":18,"view":{"fill":"#efefef","stroke":"#333"},"data":{"values":[{"t":"Life proportion since the first treatment"}]},"mark":{"type":"text","fontSize":13,"font":"DejaVu Sans","color":"#111"},"encoding":{"text":{"field":"t","type":"nominal"}}},
      {"width":306,"height":301,"data":{"name":"B4"},
       "encoding":{"x":{"field":"x","type":"quantitative","title":null,"scale":{"domain":[-0.2966,1.259],"nice":false,"zero":false},"axis":{"values":[0,0.5,1],"format":".1f","labelPadding":6}},
                   "y":{"field":"y","type":"quantitative","title":null,"scale":{"domain":[-0.233,3.593],"nice":false,"zero":false},"axis":{"values":[0,1,2,3],"format":"d"}}},
       "layer":[{"transform":[{"filter":"datum.g=='b'"}],"mark":{"type":"line","interpolate":"monotone","color":"#2E8AD6","strokeWidth":2.8,"clip":true}},
                {"transform":[{"filter":"datum.g=='r'"}],"mark":{"type":"line","interpolate":"monotone","color":"#D9507A","strokeWidth":1.1,"clip":true}}]}
    ]},
    {"bounds":"flush","spacing":0,"vconcat":[
      {"width":305,"height":18,"view":{"fill":"#efefef","stroke":"#333"},"data":{"values":[{"t":"Life proportion of regular marijuana use"}]},"mark":{"type":"text","fontSize":13,"font":"DejaVu Sans","color":"#111"},"encoding":{"text":{"field":"t","type":"nominal"}}},
      {"width":305,"height":301,"data":{"name":"B5"},
       "encoding":{"x":{"field":"x","type":"quantitative","title":null,"scale":{"domain":[-0.284,1.172],"nice":false,"zero":false},"axis":{"values":[0,0.5,1],"format":".1f","labelPadding":6}},
                   "y":{"field":"y","type":"quantitative","title":null,"scale":{"domain":[-0.344,5.3],"nice":false,"zero":false},"axis":{"values":[0,1,2,3,4,5],"format":"d"}}},
       "layer":[{"transform":[{"filter":"datum.g=='b'"}],"mark":{"type":"line","interpolate":"monotone","color":"#2E8AD6","strokeWidth":2.8,"clip":true}},
                {"transform":[{"filter":"datum.g=='r'"}],"mark":{"type":"line","interpolate":"monotone","color":"#D9507A","strokeWidth":1.1,"clip":true}}]}
    ]},
    {"bounds":"flush","spacing":0,"vconcat":[
      {"width":307,"height":18,"view":{"fill":"#efefef","stroke":"#333"},"data":{"values":[{"t":"Life proportion of regular crack use"}]},"mark":{"type":"text","fontSize":13,"font":"DejaVu Sans","color":"#111"},"encoding":{"text":{"field":"t","type":"nominal"}}},
      {"width":307,"height":301,"data":{"name":"B6"},
       "encoding":{"x":{"field":"x","type":"quantitative","title":null,"scale":{"domain":[-0.409,1.039],"nice":false,"zero":false},"axis":{"values":[0,0.5,1],"format":".1f","labelPadding":6}},
                   "y":{"field":"y","type":"quantitative","title":null,"scale":{"domain":[-0.1625,2.505],"nice":false,"zero":false},"axis":{"values":[0,0.5,1,1.5,2],"format":".1f"}}},
       "layer":[{"transform":[{"filter":"datum.g=='b'"}],"mark":{"type":"line","interpolate":"monotone","color":"#2E8AD6","strokeWidth":2.8,"clip":true}},
                {"transform":[{"filter":"datum.g=='r'"}],"mark":{"type":"line","interpolate":"monotone","color":"#D9507A","strokeWidth":1.1,"clip":true}}]}
    ]}
   ]}
  ]}]}
],
"spacing":38
}
